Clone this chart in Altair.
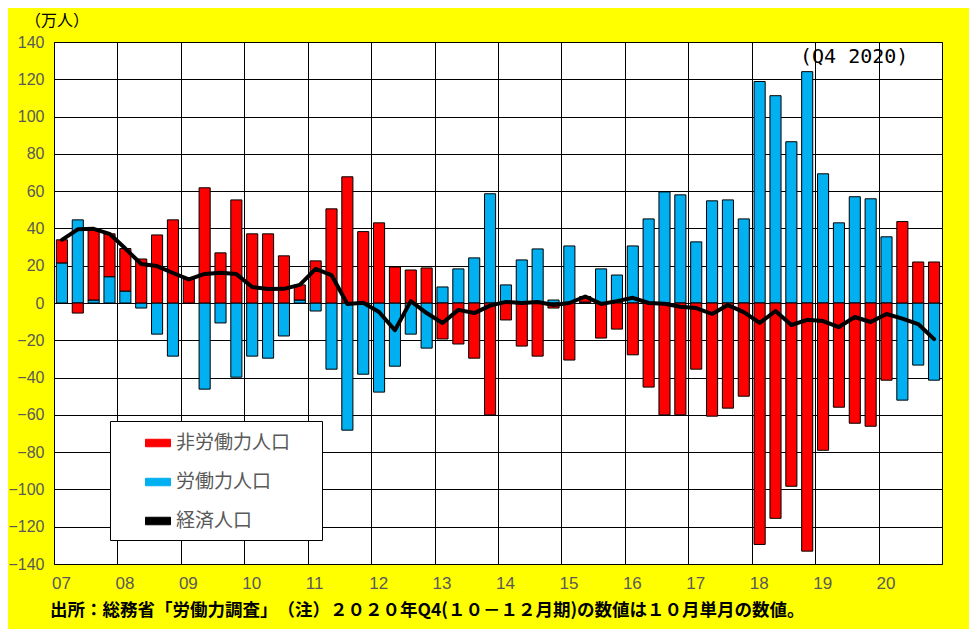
import altair as alt
import pandas as pd

# ---------------- data ----------------
years = list(range(2007, 2021))
quarter_names = ["Q1", "Q2", "Q3", "Q4"]
quarters = [f"{y}{q}" for y in years for q in quarter_names]
year_starts = [f"{y}Q1" for y in years]

# 非労働力人口 (前年同期差, 万人)
non_labor = [
    12.4, -5.4, 38.2, 23.0,
    22.8, 23.6, 36.5, 44.6,
    12.9, 61.8, 26.9, 55.3,
    37.1, 37.1, 25.3, 8.1,
    22.6, 50.5, 67.7, 38.3,
    43.0, 19.3, 17.7, 18.8,
    -19.3, -22.0, -29.6, -60.0,
    -9.1, -23.1, -28.5, -2.7,
    -30.6, 3.0, -18.8, -14.0,
    -27.8, -45.1, -60.0, -60.0,
    -35.5, -60.7, -56.4, -50.0,
    -129.5, -115.5, -98.3, -133.1,
    -79.0, -55.9, -64.5, -66.1,
    -41.4, 43.7, 22.0, 22.0,
]

# 労働力人口
labor = [
    21.5, 44.6, 1.6, 14.1,
    6.4, -2.7, -16.7, -28.5,
    -0.2, -46.2, -10.7, -39.8,
    -28.5, -29.6, -17.7, 1.6,
    -4.3, -35.5, -68.2, -38.2,
    -47.8, -33.9, -16.7, -24.2,
    8.6, 18.3, 24.2, 58.6,
    9.7, 23.1, 29.0, 1.6,
    30.6, 0.5, 18.3, 15.0,
    30.6, 45.1, 59.6, 58.0,
    32.8, 54.8, 55.3, 45.1,
    118.8, 111.2, 86.5, 124.1,
    69.3, 43.0, 57.0, 55.9,
    35.5, -52.1, -33.3, -41.4,
]

# 経済人口
economic = [
    33.9, 39.5, 39.8, 37.1,
    29.2, 20.9, 19.8, 16.1,
    12.7, 15.6, 16.2, 15.5,
    8.6, 7.5, 7.6, 9.7,
    18.3, 15.0, -0.5, 0.1,
    -4.8, -14.6, 1.0, -5.4,
    -10.7, -3.7, -5.4, -1.4,
    0.6, 0.0, 0.5, -1.1,
    0.0, 3.5, -0.5, 1.0,
    2.8, 0.0, -0.4, -2.0,
    -2.7, -5.9, -1.1, -4.9,
    -10.7, -4.3, -11.8, -9.0,
    -9.7, -12.9, -7.5, -10.2,
    -5.9, -8.4, -11.3, -19.4,
]

series_names = ["非労働力人口", "労働力人口", "経済人口"]
series_colors = ["#FF0000", "#00B0F0", "#000000"]
y_ticks = [-140, -120, -100, -80, -60, -40, -20, 0, 20, 40, 60, 80, 100, 120, 140]

title_text = "（万人）"
note_text = "(Q4 2020)"
source_text = "出所：総務省「労働力調査」　（注）２０２０年Q4(１０－１２月期)の数値は１０月単月の数値。"

# ---------------- tables ----------------
bar_rows = []
for q, r, b in zip(quarters, non_labor, labor):
    bar_rows.append({"quarter": q, "series": series_names[1], "value": b, "ord": 0})
    bar_rows.append({"quarter": q, "series": series_names[0], "value": r, "ord": 1})
bar_df = pd.DataFrame(bar_rows)
line_df = pd.DataFrame({"quarter": quarters, "value": economic,
                        "series": [series_names[2]] * len(quarters)})

JP = "Noto Sans CJK JP"
NUM = "Liberation Sans"
GRAY = "#595959"

W, H = 888, 522
step = W / len(quarters)

x_axis = alt.Axis(
    values=year_starts, labelExpr="substring(datum.value, 2, 4)",
    bandPosition=0, tickOffset=-0.15 * step,
    grid=True, gridColor="black", gridOpacity=1, gridWidth=1,
    ticks=False, domain=False, labelAngle=0, labelAlign="left",
    labelOffset=-8, labelOverlap=False,
    labelPadding=11, labelColor=GRAY, labelFontSize=17, labelFont=NUM,
    title=None,
)
x_scale = alt.Scale(paddingInner=0.3, paddingOuter=0.15)

y_axis = alt.Axis(
    values=y_ticks, grid=True, gridColor="black",
    gridOpacity=1, gridWidth=1, ticks=False, domain=False, labelPadding=10,
    labelOverlap=False, labelSeparation=0, labelBound=False,
    labelColor=GRAY, labelFontSize=16, labelFont=NUM,
    title=None,
)
y_scale = alt.Scale(domain=[-140, 140], nice=False, zero=False)

legend = alt.Legend(
    orient="none", legendX=56, legendY=379,
    title="MM", titleOrient="right", titleColor="#FFFFFF", titleFontSize=11,
    titlePadding=4,
    fillColor="white", strokeColor="black", padding=9,
    symbolType="M-1,-0.3H1V0.3H-1Z", symbolSize=625,
    symbolStrokeColor="black", symbolStrokeWidth=1, symbolOpacity=1,
    symbolOffset=26, labelOffset=5, rowPadding=16,
    labelFont=JP, labelFontSize=19, labelColor=GRAY, labelLimit=300,
)
color_enc = alt.Color(
    "series:N",
    scale=alt.Scale(domain=series_names, range=series_colors),
    legend=legend,
)

bars = alt.Chart(bar_df).mark_bar(stroke="black", strokeWidth=1).encode(
    x=alt.X("quarter:N", sort=quarters, scale=x_scale, axis=x_axis),
    y=alt.Y("value:Q", stack="zero", scale=y_scale, axis=y_axis),
    color=color_enc,
    order=alt.Order("ord:Q"),
)

line = alt.Chart(line_df).mark_line(strokeWidth=4, strokeJoin="round", strokeCap="round").encode(
    x=alt.X("quarter:N", sort=quarters, scale=x_scale, axis=x_axis),
    y=alt.Y("value:Q", scale=y_scale, axis=y_axis),
    color=color_enc,
)

title_layer = alt.Chart(pd.DataFrame({"t": [title_text]})).mark_text(
    align="left", baseline="middle", fontSize=16, font=JP, color="black"
).encode(text="t:N", x=alt.value(-29), y=alt.value(-21))

note_layer = alt.Chart(pd.DataFrame({"t": [note_text]})).mark_text(
    align="left", baseline="middle", fontSize=20, font="DejaVu Sans Mono", color="black"
).encode(text="t:N", x=alt.value(746), y=alt.value(15))

source_layer = alt.Chart(pd.DataFrame({"t": [source_text]})).mark_text(
    align="left", baseline="middle", fontSize=17.5, font=JP, fontWeight="bold", color="black"
).encode(text="t:N", x=alt.value(-4), y=alt.value(569))

chart = alt.layer(bars, line, title_layer, note_layer, source_layer).properties(
    width=W, height=H,
    padding={"left": 46, "top": 34, "right": 27, "bottom": 65},
    autosize=alt.AutoSizeParams(type="none"),
    background="#FFFF00",
).configure_view(fill="white", stroke="black", strokeWidth=1
).configure_axis(labelOverlap=False)

chart.save("out.html", embed_options={"renderer": "svg", "actions": False})
